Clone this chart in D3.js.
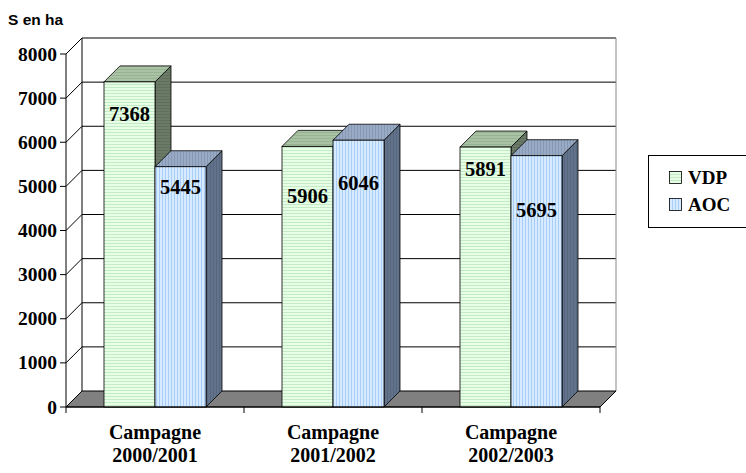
<!DOCTYPE html>
<html>
<head>
<meta charset="utf-8">
<script src="https://cdn.jsdelivr.net/npm/d3@7"></script>
<style>
  body { margin: 0; background: #fff; }
  svg text { font-family: "Liberation Serif", "Times New Roman", serif; font-weight: bold; }
</style>
</head>
<body>
<svg id="chart" width="746" height="473"></svg>
<script>
const categories = ["Campagne 2000/2001", "Campagne 2001/2002", "Campagne 2002/2003"];
const series = ["VDP", "AOC"];
const vdpValues = [7368, 5906, 5891];
const aocValues = [5445, 6046, 5695];
const yTicks = [0, 1000, 2000, 3000, 4000, 5000, 6000, 7000, 8000];
// label drop below bar top (labels were placed by hand in the original)
const labelDrop = { VDP: [32, 50, 22], AOC: [20, 43, 54] };

const svg = d3.select("#chart");
const plotLeft = 66, plotRight = 600, plotBottom = 407, plotTop = 54;
const dx = 16, dy = -16;

const y = d3.scaleLinear().domain([0, 8000]).range([plotBottom, plotTop]);
const x = d3.scaleBand().domain(categories).range([plotLeft, plotRight]);
const xs = d3.scaleBand().domain(series).range([38, 140]);

const defs = svg.append("defs");
function stripes(id, bg, fg, horizontal, size) {
  const p = defs.append("pattern").attr("id", id).attr("patternUnits", "userSpaceOnUse")
    .attr("width", size).attr("height", size);
  p.append("rect").attr("width", size).attr("height", size).attr("fill", bg);
  if (horizontal) p.append("rect").attr("width", size).attr("height", 1).attr("fill", fg);
  else p.append("rect").attr("width", 1).attr("height", size).attr("fill", fg);
}
stripes("vdpFront", "#e6ffe6", "#c4ecc4", true, 3);
stripes("aocFront", "#d6ebff", "#a9cdf6", false, 3);
stripes("vdpTop", "#a9c2a4", "#98b394", true, 3);
stripes("aocTop", "#98aac4", "#8698b4", false, 3);
stripes("vdpSide", "#6a7a66", "#5f6f5c", true, 3);
stripes("aocSide", "#62728a", "#57677e", false, 3);

const colors = {
  VDP: { front: "url(#vdpFront)", top: "url(#vdpTop)", side: "url(#vdpSide)" },
  AOC: { front: "url(#aocFront)", top: "url(#aocTop)", side: "url(#aocSide)" }
};

// back wall
svg.append("rect").attr("x", plotLeft + dx).attr("y", plotTop + dy)
  .attr("width", plotRight - plotLeft).attr("height", plotBottom - plotTop).attr("fill", "#fff");

// gridlines on back wall and left wall
yTicks.forEach((t) => {
  if (t === 0) return;
  svg.append("line").attr("x1", plotLeft + dx).attr("x2", plotRight + dx)
    .attr("y1", y(t) + dy).attr("y2", y(t) + dy)
    .attr("stroke", "#000").attr("stroke-width", 1);
  svg.append("line").attr("x1", plotLeft).attr("x2", plotLeft + dx)
    .attr("y1", y(t)).attr("y2", y(t) + dy).attr("stroke", "#000");
});

// wall edges
svg.append("line").attr("x1", plotLeft + dx).attr("x2", plotLeft + dx)
  .attr("y1", plotTop + dy).attr("y2", plotBottom + dy).attr("stroke", "#000");
svg.append("line").attr("x1", plotRight + dx).attr("x2", plotRight + dx)
  .attr("y1", plotTop + dy).attr("y2", plotBottom + dy).attr("stroke", "#888");

// floor
svg.append("polygon")
  .attr("points", [[plotLeft, plotBottom], [plotRight, plotBottom], [plotRight + dx, plotBottom + dy], [plotLeft + dx, plotBottom + dy]].join(" "))
  .attr("fill", "#808080").attr("stroke", "#000");

// bars
categories.forEach((cat, i) => {
  series.forEach((s) => {
    const v = s === "VDP" ? vdpValues[i] : aocValues[i];
    const x0 = x(cat) + xs(s);
    const x1 = x0 + xs.bandwidth();
    const yt = y(v);
    const g = svg.append("g");
    g.append("polygon")
      .attr("points", [[x1, yt], [x1 + dx, yt + dy], [x1 + dx, plotBottom + dy], [x1, plotBottom]].join(" "))
      .attr("fill", colors[s].side).attr("stroke", "#000").attr("stroke-width", 0.8);
    g.append("polygon")
      .attr("points", [[x0, yt], [x0 + dx, yt + dy], [x1 + dx, yt + dy], [x1, yt]].join(" "))
      .attr("fill", colors[s].top).attr("stroke", "#000").attr("stroke-width", 0.8);
    g.append("rect").attr("x", x0).attr("y", yt).attr("width", x1 - x0).attr("height", plotBottom - yt)
      .attr("fill", colors[s].front).attr("stroke", "#000").attr("stroke-width", 0.8);
    g.append("text").attr("x", (x0 + x1) / 2).attr("y", yt + labelDrop[s][i] + 7)
      .attr("text-anchor", "middle").attr("font-size", 20.5).text(v);
  });
});

// front axis
svg.append("line").attr("x1", plotLeft).attr("x2", plotLeft).attr("y1", plotTop).attr("y2", plotBottom).attr("stroke", "#000");
svg.append("line").attr("x1", plotLeft).attr("x2", plotRight).attr("y1", plotBottom).attr("y2", plotBottom).attr("stroke", "#000");

const yAxis = svg.append("g");
yTicks.forEach((t) => {
  yAxis.append("line").attr("x1", plotLeft - 6).attr("x2", plotLeft).attr("y1", y(t)).attr("y2", y(t)).attr("stroke", "#000");
  yAxis.append("text").attr("x", plotLeft - 9).attr("y", y(t) + 6.5).attr("text-anchor", "end")
    .attr("font-size", 19.5).text(t);
});

// category ticks and labels
[plotLeft, ...categories.map((c) => x(c) + x.bandwidth())].forEach((tx) => {
  svg.append("line").attr("x1", tx).attr("x2", tx).attr("y1", plotBottom).attr("y2", plotBottom + 6).attr("stroke", "#000");
});
categories.forEach((cat) => {
  const parts = cat.split(" ");
  const cx = x(cat) + x.bandwidth() / 2;
  parts.forEach((p, k) => {
    svg.append("text").attr("x", cx).attr("y", 439 + k * 23).attr("text-anchor", "middle")
      .attr("font-size", 20).text(p);
  });
});

// axis title
svg.append("text").attr("x", 8).attr("y", 25)
  .style("font-family", "'Liberation Sans', Arial, sans-serif").attr("font-size", 15.5).text("S en ha");

// legend
const legend = svg.append("g");
legend.append("rect").attr("x", 648.5).attr("y", 155.5).attr("width", 110).attr("height", 72)
  .attr("fill", "#fff").attr("stroke", "#000");
series.forEach((s, k) => {
  const ly = 171 + k * 27;
  legend.append("rect").attr("x", 669.5).attr("y", ly + 0.5).attr("width", 12).attr("height", 12)
    .attr("fill", colors[s].front).attr("stroke", "#000").attr("stroke-width", 0.8);
  legend.append("text").attr("x", 688).attr("y", ly + 13).attr("font-size", 19).text(s);
});
</script>
</body>
</html>
